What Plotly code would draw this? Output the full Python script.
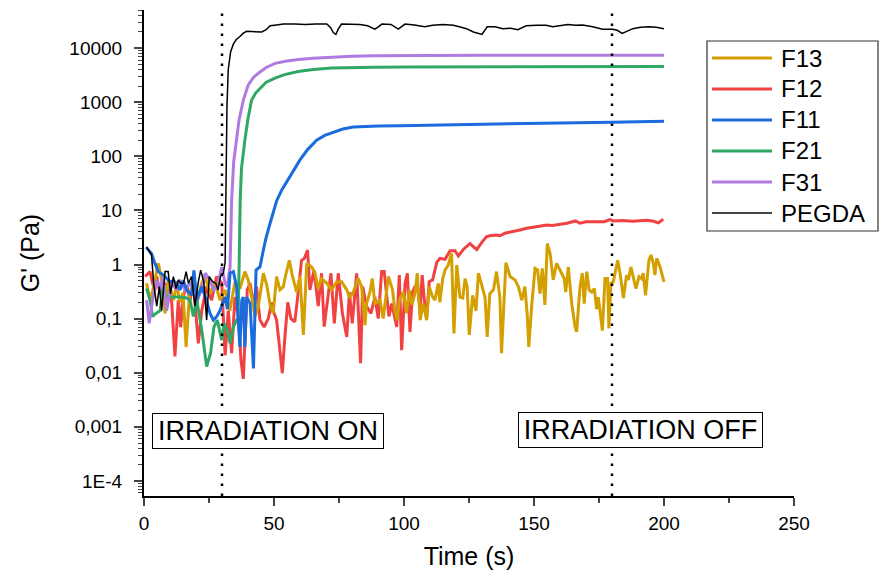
import plotly.graph_objects as go

# ---- storage modulus G' (Pa) versus time (s) ----
t_f13 = [1, 2.3, 3.5, 5.5, 6.8, 8.1, 9.3, 11.3, 12.6, 13.8, 15, 16.2, 17.4, 19, 20.3, 22.2, 23.5, 25.4,
         27.3, 29.2, 31.2, 33, 35, 36.9, 38.8, 40.1, 41.4, 42.7, 44, 45.9, 47.2, 48.5, 49.7, 51, 52.3,
         53.6, 54.5, 55.9, 57, 58.7, 60, 61.3, 62.6, 64.5, 65.8, 67, 68.3, 70.3, 72.2, 74.1, 76, 78,
         79.2, 80.5, 82.4, 83.7, 85, 85.6, 86.9, 87.8, 88.8, 90.8, 92, 94, 95.6, 96.5, 97.4, 98.2,
         99.7, 101, 102, 103, 104.2, 105.1, 106.2, 107.4, 108.7, 109.7, 111, 111.9, 113.2, 113.8,
         114.9, 115.8, 117, 118.3, 119.2, 120.3, 121.5, 122.6, 123.5, 124.3, 125.1, 126.4, 127.7,
         128.6, 129.9, 131.2, 132, 133, 134.4, 135.6, 136.9, 137.5, 139.2, 140.8, 142.7, 144, 145.3,
         146.5, 147.4, 148, 149.1, 150.4, 151.4, 152.3, 153.2, 154.2, 155.1, 156.2, 157.4, 158.7,
         160.6, 161.6, 162.2, 163.2, 164.5, 165.8, 166.4, 167.7, 168.6, 169.3, 170.3, 171.2, 172.2,
         173.2, 174.1, 174.7, 175.4, 176.3, 177.3, 178.3, 178.8, 179.6, 180.5, 182.2, 183.1, 184.4,
         185.6, 186.3, 187.3, 188.2, 189.2, 190.4, 191.4, 192, 192.9, 194.2, 195, 195.9, 196.5,
         197.2, 198.5, 200]
g_f13 = [0.45, 0.22, 0.35, 1.05, 0.52, 0.125, 0.52, 0.22, 0.42, 0.2, 0.3, 0.03, 0.25, 0.52, 0.19, 0.45,
         0.6, 0.29, 0.48, 0.22, 0.34, 0.14, 0.48, 0.36, 0.74, 0.52, 0.25, 0.11, 0.17, 0.69, 0.42, 0.18,
         0.125, 0.6, 0.34, 0.39, 0.64, 1.2, 0.64, 0.31, 0.6, 0.05, 1.05, 0.9, 0.69, 0.36, 0.55, 0.45,
         0.34, 0.48, 0.48, 0.34, 0.24, 0.31, 0.55, 0.39, 0.076, 0.19, 0.31, 0.55, 0.19, 0.22, 0.1,
         0.6, 0.34, 0.14, 0.094, 0.22, 0.31, 0.125, 0.34, 0.18, 0.29, 0.69, 0.094, 0.19, 0.094, 0.39,
         0.25, 0.22, 0.45, 0.2, 0.55, 0.79, 0.98, 1.6, 0.053, 0.98, 0.25, 0.24, 0.55, 0.39, 0.05,
         0.27, 0.14, 0.69, 0.42, 0.24, 0.046, 0.29, 0.34, 0.74, 0.24, 0.023, 1.08, 0.6, 0.52, 0.39,
         0.22, 0.39, 0.117, 0.03, 0.17, 0.85, 0.79, 0.29, 0.85, 0.18, 2.45, 1.6, 0.52, 1.05, 0.69,
         0.55, 0.31, 0.9, 0.19, 0.07, 0.057, 0.39, 0.69, 0.19, 0.74, 0.34, 0.31, 0.36, 0.15, 0.25,
         0.14, 0.06, 0.55, 0.55, 0.066, 0.45, 0.48, 1.2, 0.69, 0.24, 0.64, 0.52, 0.9, 0.55, 0.36,
         0.6, 0.55, 0.69, 0.27, 1.2, 1.5, 1.05, 0.64, 1.3, 0.9, 0.48]

t_f12 = [0.5, 2.3, 3.3, 4.2, 4.9, 6.2, 7.4, 9.3, 10.6, 11.9, 13.2, 14.1, 15.1, 16.4, 17.7, 19, 20.9,
         22.2, 24.1, 26, 27.9, 29.9, 31.2, 32.4, 33.7, 35, 36.3, 37.3, 38.2, 39.7, 40.8, 42, 43.3,
         44.6, 46.2, 47.8, 49.1, 49.7, 51, 52, 53.2, 54.2, 55.3, 56.5, 58, 59.1, 60.6, 61.7, 62.9,
         63.8, 65.4, 67, 68.3, 69.3, 70.9, 71.9, 73.2, 74.7, 76.3, 78, 79, 80.1, 81.8, 83.3, 84.1,
         85.6, 87.3, 88.8, 90.1, 91.4, 92.4, 94.2, 95.3, 97.2, 98.2, 99.1, 100.4, 101.3, 102.3,
         103.3, 104.2, 105.1, 106.2, 107, 107.8, 108.7, 109.7, 111, 112.6, 113.8, 115.8, 117.7,
         119.6, 120.9, 122.8, 125.4, 126.7, 128, 130, 131.8, 133, 135.6, 137, 138.8, 141, 143.3,
         145, 147.2, 150, 152, 155, 157, 160, 162.6, 166, 167.7, 170, 174, 177, 179.2, 180.5, 184,
         188, 193.3, 196, 197.8, 199.7]
g_f12 = [0.6, 0.74, 0.45, 0.34, 0.6, 0.29, 0.45, 0.42, 0.22, 0.02, 0.22, 0.07, 0.25, 0.42, 0.22, 0.45,
         0.035, 0.14, 0.39, 0.22, 0.6, 0.45, 0.021, 0.14, 0.023, 0.25, 0.11, 0.017, 0.0077, 0.34,
         0.45, 0.19, 0.39, 0.094, 0.07, 0.1, 0.2, 0.14, 0.094, 0.03, 0.0098, 0.046, 0.2, 0.1, 0.087,
         0.25, 1.2, 1.3, 1.85, 0.34, 0.79, 0.17, 0.69, 0.071, 0.25, 0.69, 0.082, 0.69, 0.125, 0.046,
         0.31, 0.082, 0.69, 0.015, 0.39, 0.17, 0.125, 0.25, 0.1, 0.74, 0.74, 0.11, 0.19, 0.07, 0.64,
         0.026, 0.45, 0.69, 0.057, 0.31, 0.39, 0.42, 0.15, 0.64, 0.22, 0.1, 0.48, 0.52, 1.1, 1.3,
         1.25, 1.8, 1.8, 1.44, 1.9, 2.45, 2.13, 1.9, 2.6, 3.3, 3.4, 3.5, 3.4, 3.8, 4.0, 4.3, 4.4,
         4.7, 4.9, 5.1, 5.4, 5.3, 5.5, 5.8, 6.4, 5.8, 6.2, 6.3, 6.2, 6.8, 6.4, 6.5, 6.3, 6.6, 6.3,
         5.9, 6.9]

t_f11 = [0.8, 2.9, 4.2, 5.5, 7.4, 10, 11.3, 12.6, 13.8, 15.1, 16.4, 17.5, 18.3, 19.2, 20.3, 20.9,
         22.2, 24, 25.4, 26.7, 28, 29.2, 31.2, 32.1, 33.1, 34.4, 35.6, 36.3, 36.9, 37.6, 38.2, 38.8,
         39.5, 40.8, 42.1, 43.1, 44.6, 45.9, 47, 48.5, 50, 51, 53, 55, 57.5, 60, 63, 66.4, 69.5,
         72.8, 76.5, 80.5, 85, 90, 98.5, 110, 120, 140, 160, 180, 200]
g_f11 = [2.1, 1.6, 1.05, 0.74, 0.64, 0.48, 0.5, 0.45, 0.34, 0.5, 0.34, 0.3, 0.27, 0.78, 0.22, 0.27,
         0.39, 0.22, 0.125, 0.094, 0.11, 0.14, 0.25, 0.15, 0.69, 0.74, 0.39, 0.082, 0.03, 0.22, 0.25,
         0.03, 0.25, 0.19, 0.012, 0.79, 0.9, 1.85, 3.2, 5.8, 11, 15, 24, 34, 55, 86, 135, 200, 245,
         280, 320, 350, 362, 366, 370, 380, 388, 400, 415, 430, 445]

t_f21 = [1, 2.3, 3.3, 4.6, 6.2, 7.4, 8.7, 11.3, 13.8, 16.4, 17.7, 19, 20.3, 22.2, 24.1, 25.6, 26.9,
         28.2, 29.9, 30.8, 32, 33.1, 34.4, 35.6, 36.2, 36.6, 37, 37.5, 38.2, 38.8, 40, 41.4, 43,
         44.6, 47, 50.4, 54, 59.3, 65, 72.2, 80, 88.8, 100, 130, 160, 200]
g_f21 = [0.36, 0.22, 0.11, 0.125, 0.14, 0.42, 0.25, 0.25, 0.25, 0.24, 0.22, 0.11, 0.22, 0.062, 0.013,
         0.023, 0.07, 0.094, 0.04, 0.083, 0.062, 0.035, 0.07, 0.094, 0.1, 1, 15, 60, 130, 200, 500,
         1100, 1500, 1800, 2350, 2800, 3250, 3700, 4050, 4300, 4400, 4450, 4480, 4520, 4560, 4600]

t_f31 = [1, 2, 3.3, 4.9, 6.2, 7.4, 8.7, 10.6, 12.6, 13.8, 15.8, 17.7, 19, 20.3, 22.2, 23.5, 25.4,
         26.7, 28.2, 29.9, 31.2, 32, 33.1, 33.7, 34.5, 35.6, 36.5, 38.2, 40.1, 42, 44, 47, 50.4, 55,
         59.3, 65, 72.2, 80, 88.8, 100, 130, 160, 200]
g_f31 = [0.22, 0.082, 0.22, 0.52, 0.34, 0.6, 0.14, 0.45, 0.34, 0.52, 0.34, 0.45, 0.39, 0.22, 0.34,
         0.69, 0.52, 0.34, 0.39, 0.9, 0.45, 0.39, 0.9, 15, 80, 200, 450, 1100, 2100, 2850, 3450,
         4400, 5250, 5800, 6200, 6550, 6900, 7100, 7250, 7320, 7380, 7420, 7450]

t_pegda = [1, 2.9, 3.7, 4.9, 5.9, 6.8, 8.1, 9.3, 10.2, 11.3, 12.3, 13.2, 14.1, 15.2, 16.2, 17.1, 18.3,
           19.6, 20.9, 21.8, 23, 24.1, 25.1, 26.4, 27.6, 28.5, 29.4, 30.5, 31.2, 31.6, 31.9, 32.4,
           33.3, 34.4, 35.5, 36.9, 38.2, 39.5, 42, 45.3, 47, 48.5, 51, 53.6, 58, 62, 66, 70.3, 71.8,
           72.8, 73.8, 74.8, 76, 80, 83, 86, 88.8, 90, 91.5, 95, 97.8, 100.4, 104, 108, 111, 115,
           119, 122, 124, 126.7, 130, 132, 135, 138, 141, 143.8, 147, 151, 154.6, 157.2, 160, 163,
           166, 168.7, 172.6, 176.4, 180.3, 182, 183.9, 186, 188, 191, 194.4, 197, 200]
g_pegda = [2.1, 1.5, 0.45, 0.17, 0.39, 0.14, 0.74, 0.74, 0.29, 0.6, 0.36, 0.52, 0.45, 0.45, 0.74,
           0.45, 0.6, 0.17, 0.48, 0.79, 0.48, 0.094, 0.6, 0.48, 0.45, 0.34, 0.6, 0.69, 1.1, 30, 800,
           4000, 8500, 12000, 14500, 16500, 19000, 20500, 20500, 20000, 22000, 26000, 27000, 28000,
           28000, 27500, 28000, 28000, 24000, 19500, 18000, 23000, 28000, 28000, 27500, 26000,
           22500, 24500, 28000, 27500, 22500, 28000, 27000, 25000, 26500, 27500, 26500, 24500,
           23000, 20000, 18000, 25000, 25000, 23000, 23500, 22000, 26000, 26500, 26500, 25000,
           26500, 27500, 26500, 27000, 25000, 22500, 22500, 21500, 18800, 21000, 23000, 24500,
           25000, 24500, 23000]

series_names = ["F13", "F12", "F11", "F21", "F31", "PEGDA"]
series_colors = ["#D49F00", "#F04242", "#1A6BDC", "#2FA866", "#B07BE0", "#000000"]
series_widths = [3, 3, 3, 3, 3, 1.5]
series_data = {
    "F13": (t_f13, g_f13),
    "F12": (t_f12, g_f12),
    "F11": (t_f11, g_f11),
    "F21": (t_f21, g_f21),
    "F31": (t_f31, g_f31),
    "PEGDA": (t_pegda, g_pegda),
}
draw_order = ["F12", "F13", "F21", "F31", "F11", "PEGDA"]

irradiation_on = 30
irradiation_off = 180

y_tickvals = [1e4, 1e3, 1e2, 10, 1, 0.1, 0.01, 0.001, 1e-4]
y_ticktext = ["10000", "1000", "100", "10", "1", "0,1", "0,01", "0,001", "1E-4"]
x_tickvals = [0, 50, 100, 150, 200, 250]

FONT = "Liberation Sans, Arial, sans-serif"

fig = go.Figure()
for name in draw_order:
    i = series_names.index(name)
    t, g = series_data[name]
    fig.add_trace(go.Scatter(
        x=t, y=g, mode="lines", name=name, showlegend=False,
        line=dict(color=series_colors[i], width=series_widths[i]),
    ))

# dotted markers for irradiation start / stop
for xv in (irradiation_on, irradiation_off):
    fig.add_shape(type="line", xref="x", yref="paper", x0=xv, x1=xv, y0=0, y1=1,
                  line=dict(color="black", width=2.5, dash="2.5px,7.5px"), layer="above")

fig.add_annotation(x=0.1908, y=0.133, xref="paper", yref="paper", text="IRRADIATION ON",
                   showarrow=False, font=dict(family=FONT, size=27, color="black"),
                   bgcolor="white", bordercolor="black", borderwidth=1, borderpad=1,
                   width=228, height=32, xanchor="center", yanchor="middle")
fig.add_annotation(x=0.7638, y=0.135, xref="paper", yref="paper", text="IRRADIATION OFF",
                   showarrow=False, font=dict(family=FONT, size=27, color="black"),
                   bgcolor="white", bordercolor="black", borderwidth=1, borderpad=1,
                   width=241, height=32, xanchor="center", yanchor="middle")

# legend box drawn in paper space (px -> paper)
L, R_, T_, B_ = 144, 794, 10, 496
def px(xp):
    return (xp - L) / (R_ - L)
def py(yp):
    return (B_ - yp) / (B_ - T_)

fig.add_shape(type="rect", xref="paper", yref="paper", x0=px(707), x1=px(878), y0=py(41), y1=py(231),
              line=dict(color="#333333", width=1.2), fillcolor="white", layer="above")
for k, name in enumerate(series_names):
    yc = 58 + 31 * k
    lw = 3 if name != "PEGDA" else 2
    col = series_colors[k] if name != "PEGDA" else "#444444"
    fig.add_shape(type="line", xref="paper", yref="paper", x0=px(712), x1=px(772), y0=py(yc), y1=py(yc),
                  line=dict(color=col, width=lw), layer="above")
    fig.add_annotation(x=px(779), y=py(yc), xref="paper", yref="paper", text=name, showarrow=False,
                       xanchor="left", yanchor="middle", font=dict(family=FONT, size=24, color="black"))

fig.update_layout(
    width=879, height=577,
    margin=dict(l=144, r=85, t=10, b=81),
    paper_bgcolor="white", plot_bgcolor="white",
    font=dict(family=FONT, size=19, color="black"),
    showlegend=False,
)
fig.update_xaxes(
    range=[0, 250], tickvals=x_tickvals, ticks="outside", ticklen=8, tickwidth=1.5,
    showline=True, linecolor="black", linewidth=2, showgrid=False, zeroline=False,
    tickfont=dict(family=FONT, size=19), automargin=False, ticklabelstandoff=1,
    minor=dict(tickvals=[25, 75, 125, 175, 225], ticks="outside", ticklen=5, tickwidth=1.5, showgrid=False),
    title=dict(text="Time (s)", font=dict(family=FONT, size=25), standoff=15),
)
fig.update_yaxes(
    type="log", range=[-4.28, 4.707], tickvals=y_tickvals, ticktext=y_ticktext,
    ticks="outside", ticklen=8, tickwidth=1.5,
    showline=True, linecolor="black", linewidth=2, showgrid=False, zeroline=False,
    tickfont=dict(family=FONT, size=19), automargin=False, ticklabelstandoff=8,
    minor=dict(dtick="D1", ticks="outside", ticklen=4, tickwidth=1, showgrid=False),
    title=dict(text="G' (Pa)", font=dict(family=FONT, size=25), standoff=23),
)

fig.write_html("out.html")
